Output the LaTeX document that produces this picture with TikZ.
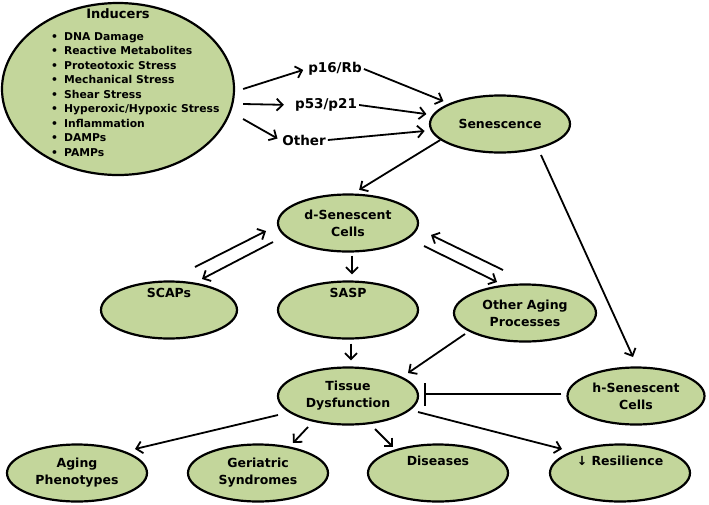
\documentclass[tikz,border=0pt]{standalone}
\usepackage{fontspec}
\setmainfont{DejaVu Sans}
\usetikzlibrary{shapes.geometric,arrows.meta}

\definecolor{leaf}{HTML}{C3D69B}

\tikzset{
  blob/.style={draw, ellipse, fill=leaf, line width=2.2pt, minimum width=140pt, minimum height=57pt, inner sep=0pt, align=center},
  tag/.style={inner sep=2pt, font=\fontsize{13.5}{16}\selectfont\bfseries},
  flow/.style={->, line width=1.8pt},
  block/.style={-{Bar[width=23pt]}, line width=1.8pt}
}

\begin{document}
\begin{tikzpicture}[x=1pt, y=1pt, >={Straight Barb[length=6pt,width=12pt]}, font=\fontsize{12.5}{17}\selectfont\bfseries]
        \useasboundingbox (0,0) rectangle (709,-504);

        % Inducers
        \node[blob, minimum width=232pt, minimum height=172pt] (inducers) at (118,-89) {};
        \node[font=\fontsize{13}{16}\selectfont\bfseries] (indtitle) at (118,-14) {Inducers};
        \node[anchor=north west, align=left, inner sep=0pt, font=\fontsize{10.8}{14.5}\selectfont\bfseries] (indlist) at (51,-32) {%
            \textbullet\hspace{6pt}DNA Damage\\
            \textbullet\hspace{6pt}Reactive Metabolites\\
            \textbullet\hspace{6pt}Proteotoxic Stress\\
            \textbullet\hspace{6pt}Mechanical Stress\\
            \textbullet\hspace{6pt}Shear Stress\\
            \textbullet\hspace{6pt}Hyperoxic/Hypoxic Stress\\
            \textbullet\hspace{6pt}Inflammation\\
            \textbullet\hspace{6pt}DAMPs\\
            \textbullet\hspace{6pt}PAMPs};

        % Pathways
        \node[tag] (p16) at (335,-69) {p16/Rb};
        \node[tag] (p53) at (326,-105) {p53/p21};
        \node[tag] (othr) at (304,-140) {Other};

        % Senescence
        \node[blob] (sen) at (500,-124) {Senescence};

        % d-Senescent Cells and what follows
        \node[blob] (dsen) at (348,-223) {d-Senescent\\Cells};
        \node[blob, minimum width=136pt, label={[yshift=17pt]center:SCAPs}] (scaps) at (169,-310) {};
        \node[blob, label={[yshift=17pt]center:SASP}] (sasp) at (348,-310) {};
        \node[blob, minimum width=142pt] (oap) at (525,-313) {Other Aging\\Processes};

        % Tissue Dysfunction
        \node[blob] (tissue) at (348,-396) {Tissue\\Dysfunction};
        \node[blob, minimum width=137pt] (hsen) at (636,-396) {h-Senescent\\Cells};

        % Outcomes
        \node[blob] (aging) at (77,-473) {Aging\\Phenotypes};
        \node[blob] (geri) at (258,-473) {Geriatric\\Syndromes};
        \node[blob, label={[yshift=12pt]center:Diseases}] (dis) at (438,-473) {};
        \node[blob, label={[yshift=12pt]center:↓ Resilience}] (resil) at (620,-473) {};

        % Arrows
        \draw[flow, shorten >=3pt] ([xshift=8pt]inducers.east) -- (p16.west);
        \draw[flow, shorten >=9pt] ([xshift=8pt,yshift=-15pt]inducers.east) -- (p53.west);
        \draw[flow, shorten >=3pt] ([xshift=8pt,yshift=-30pt]inducers.east) -- (othr.west);
        \draw[flow, shorten >=6pt] (p16.east) -- (sen);
        \draw[flow, shorten >=6pt] (p53.east) -- (sen);
        \draw[flow, shorten >=6pt] (othr.east) -- (sen);
        \draw[flow, shorten >=7pt] (sen.195) -- (dsen.80);
        \draw[flow] ([shift={(41,-31)}]sen.center) -- ([shift={(-3,39)}]hsen.center);
        \draw[flow, shorten <=3pt, shorten >=6pt] ([xshift=4pt]dsen.south) -- ([xshift=4pt]sasp.north);
        \draw[flow] ([shift={(26,43)}]scaps.center) -- ([shift={(-82,-8)}]dsen.center);
        \draw[flow] ([shift={(-75,-19)}]dsen.center) -- ([shift={(33,31)}]scaps.center);
        \draw[flow] ([shift={(-22,43)}]oap.center) -- ([shift={(83,-12)}]dsen.center);
        \draw[flow] ([shift={(76,-23)}]dsen.center) -- ([shift={(-28,31)}]oap.center);
        \draw[flow, shorten <=4pt, shorten >=6pt] ([xshift=3pt]sasp.south) -- ([xshift=3pt]tissue.north);
        \draw[flow] ([shift={(-60,-21)}]oap.center) -- ([shift={(60,23)}]tissue.center);
        \draw[block, shorten <=5pt] ([yshift=2pt]hsen.west) -- ([xshift=5pt,yshift=2pt]tissue.east);
        \draw[flow] ([shift={(-70,-19)}]tissue.center) -- ([shift={(58,24)}]aging.center);
        \draw[flow] ([shift={(-40,-31)}]tissue.center) -- ([shift={(35,30)}]geri.center);
        \draw[flow] ([shift={(27,-33)}]tissue.center) -- ([shift={(-45,26)}]dis.center);
        \draw[flow] ([shift={(70,-16)}]tissue.center) -- ([shift={(-58,24)}]resil.center);
    \end{tikzpicture}
\end{document}
